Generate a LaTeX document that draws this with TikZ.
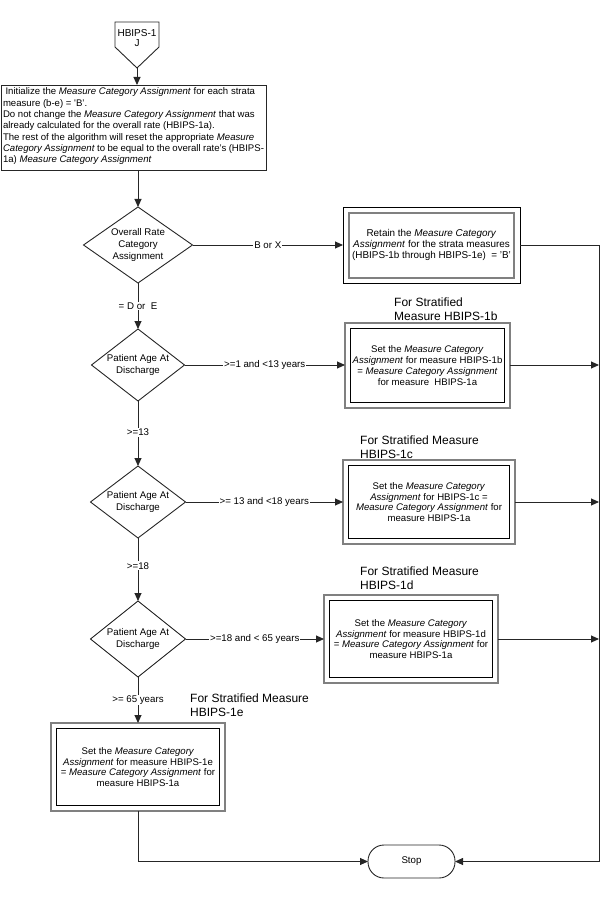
\documentclass[tikz,border=0pt]{standalone}
\usepackage{fontspec}
\setmainfont{Liberation Sans}
\usetikzlibrary{shapes.geometric,arrows.meta}

\tikzset{
  line/.style={line width=0.9pt, draw=black!85},
  arr/.style={line, -{Triangle[length=8pt,width=7pt]}},
  dec/.style={diamond, draw=black!85, line width=0.9pt, inner sep=0pt, outer sep=0pt, align=center,
              font=\fontsize{9.7}{11.6}\selectfont},
  boxA/.style={draw=black, line width=0.9pt, inner sep=0pt, outer sep=0pt, align=center,
              font=\fontsize{9.9}{10.6}\selectfont},
  boxB/.style={draw=black!50, line width=1.8pt, inner sep=0pt, outer sep=0pt, align=center,
              font=\fontsize{9.6}{10.8}\selectfont},
  innerA/.style={draw=black!50, line width=1.8pt},
  innerB/.style={draw=black, line width=0.9pt},
  lab/.style={fill=white, inner sep=1pt, font=\fontsize{9.7}{11}\selectfont},
  ttl/.style={anchor=north west, inner sep=0pt, align=left, font=\fontsize{12}{14}\selectfont},
  term/.style={draw=black!85, line width=0.9pt, rounded corners=16pt, inner sep=0pt, outer sep=0pt,
              font=\fontsize{9.7}{11}\selectfont}
}

\begin{document}
\begin{tikzpicture}[x=1pt,y=-1pt]
\useasboundingbox (0,0) rectangle (601,901);

% off-page connector
\draw[line] (115,22) -- (159,22) -- (159,47) -- (137,68) -- (115,47) -- cycle;
\node[font=\fontsize{10}{10.5}\selectfont, align=center, inner sep=0pt] (J) at (137,38) {HBIPS-1\\J};
\coordinate (Jtip) at (137,68);

% initial box
\node[draw=black!85, line width=0.9pt, inner xsep=2pt, inner ysep=3pt, outer sep=0pt,
      font=\fontsize{9.6}{11.3}\selectfont] (init) at (133.5,127.5)
 {\parbox[c][79pt][t]{261pt}{\raggedright
 \hspace*{2.5pt}Initialize the \textit{Measure Category Assignment} for each strata\\
 measure (b-e) = \textquotesingle B'.\\
 Do not change the \textit{Measure Category Assignment} that was\\
 already calculated for the overall rate (HBIPS-1a).\\
 The rest of the algorithm will reset the appropriate \textit{Measure}\\
 \textit{Category Assignment} to be equal to the overall rate's (HBIPS-\\
 1a) \textit{Measure Category Assignment}}};

% decisions
\node[dec, aspect=1.43, minimum width=109pt, minimum height=76pt] (d1) at (138,245)
 {Overall Rate\\Category\\Assignment};
\node[dec, aspect=1.29, minimum width=93pt, minimum height=72pt] (d2) at (138,365)
 {Patient Age At\\Discharge};
\node[dec, aspect=1.32, minimum width=95pt, minimum height=72pt] (d3) at (138,502)
 {Patient Age At\\Discharge};
\node[dec, aspect=1.25, minimum width=95pt, minimum height=76pt] (d4) at (138,639)
 {Patient Age At\\Discharge};

% action boxes
\node[boxA, minimum width=177pt, minimum height=76pt] (retain) at (431.5,245)
 {Retain the \textit{Measure Category}\\\textit{Assignment} for the strata measures\\(HBIPS-1b through HBIPS-1e)\ \ = 'B'};
\draw[innerA] ([shift={(6pt,-6pt)}]retain.north west) rectangle ([shift={(-6pt,5pt)}]retain.south east);

\node[boxB, minimum width=165pt, minimum height=85pt] (b1) at (427.5,365.5)
 {Set the \textit{Measure Category}\\\textit{Assignment} for measure HBIPS-1b\\= \textit{Measure Category Assignment}\\for measure\ \ HBIPS-1a};
\draw[innerB] ([shift={(5.5pt,-5.5pt)}]b1.north west) rectangle ([shift={(-5.5pt,5.5pt)}]b1.south east);

\node[boxB, minimum width=172pt, minimum height=84pt] (b2) at (429,502)
 {Set the \textit{Measure Category}\\\textit{Assignment} for HBIPS-1c =\\\textit{Measure Category Assignment} for\\measure HBIPS-1a};
\draw[innerB] ([shift={(5.5pt,-5.5pt)}]b2.north west) rectangle ([shift={(-5.5pt,5.5pt)}]b2.south east);

\node[boxB, minimum width=174pt, minimum height=88pt] (b3) at (411,639)
 {Set the \textit{Measure Category}\\\textit{Assignment} for measure HBIPS-1d\\= \textit{Measure Category Assignment} for\\measure HBIPS-1a};
\draw[innerB] ([shift={(5.5pt,-5.5pt)}]b3.north west) rectangle ([shift={(-5.5pt,5.5pt)}]b3.south east);

\node[boxB, minimum width=174pt, minimum height=88pt] (b4) at (138,767)
 {Set the \textit{Measure Category}\\\textit{Assignment} for measure HBIPS-1e\\= \textit{Measure Category Assignment} for\\measure HBIPS-1a};
\draw[innerB] ([shift={(5.5pt,-5.5pt)}]b4.north west) rectangle ([shift={(-5.5pt,5.5pt)}]b4.south east);

% titles
\node[ttl] (t1) at (394,298) {For Stratified\\Measure HBIPS-1b};
\node[ttl] (t2) at (360,436) {For Stratified Measure\\HBIPS-1c};
\node[ttl] (t3) at (360,567) {For Stratified Measure\\HBIPS-1d};
\node[ttl] (t4) at (190,694) {For Stratified Measure\\HBIPS-1e};

% stop
\node[term, minimum width=87pt, minimum height=33pt] (stop) at (411.5,861.5) {Stop};

% bus
\coordinate (bus1) at (599,245);
\coordinate (bus5) at (599,861.5);

% connectors
\draw[arr] (Jtip) -- (Jtip |- init.north);
\draw[arr] (d1.north |- init.south) -- (d1.north);
\draw[arr] (d1.east) -- (retain.west) node[lab, midway] {B or X};
\draw[arr] (d1.south) -- (d2.north) node[lab, midway] {= D or\ \ E};
\draw[arr] (d2.east) -- (b1.west |- d2.east) node[lab, midway] {>=1 and <13 years};
\draw[arr] (d2.south) -- (d3.north) node[lab, pos=0.48] {>=13};
\draw[arr] (d3.east) -- (b2.west |- d3.east) node[lab, midway] {>= 13 and <18 years};
\draw[arr] (d3.south) -- (d4.north) node[lab, pos=0.44] {>=18};
\draw[arr] (d4.east) -- (b3.west |- d4.east) node[lab, midway] {>=18 and < 65 years};
\draw[arr] (d4.south) -- (b4.north) node[lab, midway] {>= 65 years};

\draw[arr] (retain.east) -- (bus1) -- (bus5) -- (stop.east);
\draw[arr] (b1.east |- d2.east) -- (bus1 |- d2.east);
\draw[arr] (b2.east |- d3.east) -- (bus1 |- d3.east);
\draw[arr] (b3.east |- d4.east) -- (bus1 |- d4.east);
\draw[arr] (b4.south) |- (stop.west);
\end{tikzpicture}
\end{document}
